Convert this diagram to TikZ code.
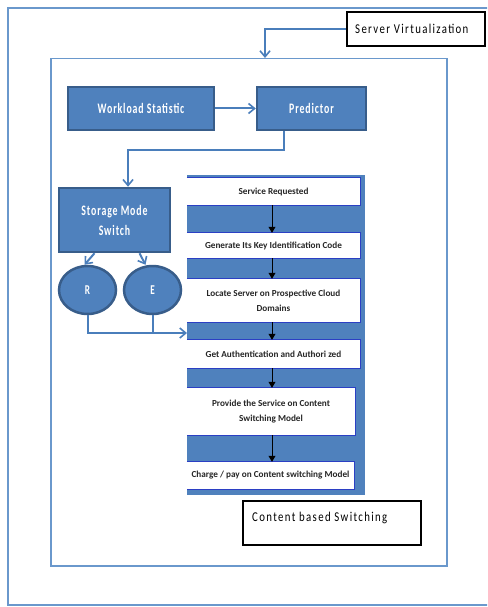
\documentclass[tikz,border=0pt]{standalone}
\usepackage{fontspec}
\setmainfont{Carlito}
\usetikzlibrary{arrows.meta,shapes.geometric,calc}
\newfontfamily\bluefont[FakeStretch=0.68,LetterSpace=6]{Carlito}
\newfontfamily\labelfont[FakeStretch=0.8,LetterSpace=10]{Carlito}
\definecolor{boxblue}{HTML}{4F81BD}
\definecolor{boxedge}{HTML}{385D8A}
\definecolor{frameblue}{HTML}{6A98CC}
\definecolor{flowedge}{HTML}{2B3FC4}
\definecolor{lineblue}{HTML}{4A7EBB}
\tikzset{
  bluebox/.style={draw=boxedge, line width=2.5pt, fill=boxblue, inner sep=0pt, text=white, font=\bluefont\bfseries\fontsize{14.5}{20}\selectfont, align=center},
  bluecirc/.style={ellipse, draw=boxedge, line width=2.5pt, fill=boxblue, inner sep=0pt, text=white, font=\bluefont\bfseries\fontsize{13.5}{15}\selectfont},
  flowbox/.style={fill=white, inner sep=0pt, font=\bfseries\fontsize{9.2}{15}\selectfont, text=black!85, align=center},
  labelbox/.style={draw=black, line width=2pt, fill=white, inner sep=0pt},
  labeltext/.style={font=\labelfont\fontsize{13.5}{15}\selectfont, anchor=west, inner sep=0pt},
  conn/.style={draw=lineblue, line width=2pt, -{Straight Barb[length=6pt,width=10pt,line width=1.6pt]}},
  plainconn/.style={draw=lineblue, line width=2pt},
  flowarrow/.style={draw=black, line width=0.8pt, -{Triangle[length=6pt,width=7pt]}}
}
\begin{document}
\begin{tikzpicture}[x=1pt,y=-1pt]
\useasboundingbox (0,0) rectangle (487,607);
\clip (0,0) rectangle (487,607);
\fill[white] (0,0) rectangle (487,607);
% outer frame (open at the right, beyond the picture)
\coordinate (otl) at (8,8);
\coordinate (obl) at (8,605);
\draw[frameblue, line width=2pt] (otl -| 495,0) -- (otl) -- (obl) -- (obl -| 495,0);
% inner frame
\node[draw=frameblue, line width=1.5pt, minimum width=396pt, minimum height=507pt, inner sep=0pt, anchor=north west] (inner) at (50,58) {};

% server virtualization label
\node[labelbox, minimum width=138pt, minimum height=34pt] (sv) at (416,29) {};
\node[labeltext] (svt) at (355,29) {Server Virtualization};

% blue boxes
\node[bluebox, minimum width=146pt, minimum height=43pt] (ws) at (141,108.5) {Workload Statistic};
\node[bluebox, minimum width=109pt, minimum height=43pt] (pr) at (311.5,108.5) {Predictor};
\node[bluebox, minimum width=111pt, minimum height=64pt] (sm) at (114.5,220) {Storage Mode\\Switch};
\node[bluecirc, minimum width=57pt, minimum height=48pt] (R) at (87.5,290) {R};
\node[bluecirc, minimum width=57pt, minimum height=48pt] (E) at (152.5,290) {E};

% flow panel
\node[fill=boxblue, minimum width=178pt, minimum height=320pt, inner sep=0pt, anchor=north west] (panel) at (187,175) {};
\node[flowbox, minimum width=173pt, minimum height=27pt] (b1) at (273.5,191.5) {Service Requested};
\node[flowbox, minimum width=173pt, minimum height=25pt] (b2) at (273.5,245.5) {Generate Its Key Identification Code};
\node[flowbox, minimum width=173pt, minimum height=43pt] (b3) at (273.5,300.5) {Locate Server on Prospective Cloud\\Domains};
\node[flowbox, minimum width=173pt, minimum height=28pt] (b4) at (273.5,354) {Get Authentication and Authori zed};
\node[flowbox, minimum width=168pt, minimum height=47pt] (b5) at (271,411.5) {Provide the Service on Content\\Switching Model};
\node[flowbox, minimum width=167pt, minimum height=27pt] (b6) at (270.5,475.5) {Charge / pay on Content switching Model};
\foreach \b in {b1,b2,b3,b4,b5,b6}{
  \draw[flowedge, line width=1pt] (\b.north west) -- (\b.north east) -- (\b.south east) -- (\b.south west);
}
\draw[flowarrow] (b1.south -| 272,0) -- (b2.north -| 272,0);
\draw[flowarrow] (b2.south -| 272,0) -- (b3.north -| 272,0);
\draw[flowarrow] (b3.south -| 272,0) -- (b4.north -| 272,0);
\draw[flowarrow] (b4.south -| 272,0) -- (b5.north -| 272,0);
\draw[flowarrow] (b5.south -| 272,0) -- (b6.north -| 272,0);

% content based switching label
\node[labelbox, minimum width=178pt, minimum height=44pt] (cbs) at (332,523) {};
\node[labeltext] (cbst) at (252,518) {Content based Switching};

% connectors
\coordinate (svin) at (265,58);
\draw[conn] (sv.west) -| (svin);
\draw[conn] (ws.east) -- (pr.west);
\draw[conn] ([xshift=-27.5pt]pr.south) -- ++(0,19) -| ([xshift=13.5pt]sm.north);
\draw[conn] ([xshift=-20pt]sm.south) -- ([xshift=-3pt]R.north);
\draw[conn] ([xshift=25pt]sm.south) -- ([xshift=-7pt]E.north);
\coordinate (ein) at (187,333);
\draw[conn] (R.south) |- (ein);
\draw[plainconn] (E.south) -- (E.south |- ein);
\end{tikzpicture}
\end{document}
